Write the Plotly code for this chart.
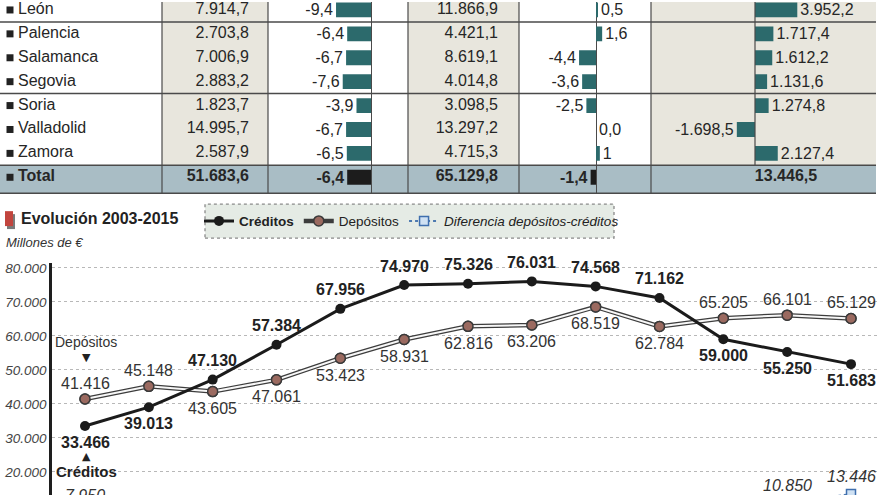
import plotly.graph_objects as go

W, H = 880, 495
FONT = "Liberation Sans"
TXT = "#262626"
TEAL = "#2c6a6c"
BEIGE = "#e8e6dd"
TOTAL_BG = "#a9bdc5"
LINEC = "#4a4a4a"

# ---------------- data: table ----------------
regions = ["León", "Palencia", "Salamanca", "Segovia", "Soria", "Valladolid", "Zamora", "Total"]
cred_values = [7914.7, 2703.8, 7006.9, 2883.2, 1823.7, 14995.7, 2587.9, 51683.6]
cred_change = [-9.4, -6.4, -6.7, -7.6, -3.9, -6.7, -6.5, -6.4]
dep_values = [11866.9, 4421.1, 8619.1, 4014.8, 3098.5, 13297.2, 4715.3, 65129.8]
dep_change = [0.5, 1.6, -4.4, -3.6, -2.5, 0.0, 1.0, -1.4]
dep_change_labels = ["0,5", "1,6", "-4,4", "-3,6", "-2,5", "0,0", "1", "-1,4"]
diff_values = [3952.2, 1717.4, 1612.2, 1131.6, 1274.8, -1698.5, 2127.4, 13446.5]

# ---------------- data: evolution ----------------
years = list(range(2003, 2016))
creditos = [33466, 39013, 47130, 57384, 67956, 74970, 75326, 76031, 74568, 71162, 59000, 55250, 51683]
depositos = [41416, 45148, 43605, 47061, 53423, 58931, 62816, 63206, 68519, 62784, 65205, 66101, 65129]
diferencia = [7950, 6135, -3525, -10323, -14533, -16039, -12510, -12825, -6049, -8378, 6204, 10850, 13446]
cred_pos = ["below", "below", "above", "above", "above", "above", "above", "above", "above", "above", "below", "below", "below"]
dep_pos = ["above", "above", "below", "below", "below", "below", "below", "below", "below", "below", "above", "above", "above"]
y_ticks = [20000, 30000, 40000, 50000, 60000, 70000, 80000]


def fmt(v, d=1):
    s = f"{v:,.{d}f}"
    return s.replace(",", "X").replace(".", ",").replace("X", ".")


def px(x):
    return x / W


def py(y):
    return 1 - y / H


fig = go.Figure()
is_total = [r == "Total" for r in regions]


def bold_if(s, b):
    return f"<b>{s}</b>" if b else s


# bullets
fig.add_trace(go.Scatter(
    x=[10] * len(regions), y=regions, mode="markers",
    marker=dict(symbol="square", size=7, color="#222"),
    xaxis="x", yaxis="y", hoverinfo="skip", showlegend=False, cliponaxis=False))
# names
fig.add_trace(go.Scatter(
    x=[18] * len(regions), y=regions, mode="text",
    text=[bold_if(r, t) for r, t in zip(regions, is_total)],
    textposition="middle right", textfont=dict(size=16, color=TXT, family=FONT),
    xaxis="x", yaxis="y", hoverinfo="skip", showlegend=False, cliponaxis=False))

# credit values
fig.add_trace(go.Scatter(
    x=[249] * len(regions), y=regions, mode="text",
    text=[bold_if(fmt(v), t) for v, t in zip(cred_values, is_total)],
    textposition="middle left", textfont=dict(size=16, color=TXT, family=FONT),
    xaxis="x", yaxis="y", hoverinfo="skip", showlegend=False, cliponaxis=False))

# deposit values
fig.add_trace(go.Scatter(
    x=[498] * len(regions), y=regions, mode="text",
    text=[bold_if(fmt(v), t) for v, t in zip(dep_values, is_total)],
    textposition="middle left", textfont=dict(size=16, color=TXT, family=FONT),
    xaxis="x", yaxis="y", hoverinfo="skip", showlegend=False, cliponaxis=False))

# total difference
fig.add_trace(go.Scatter(
    x=[786], y=regions[-1:], mode="text",
    text=[f"<b>{fmt(diff_values[-1])}</b>"],
    textposition="middle center", textfont=dict(size=16, color=TXT, family=FONT),
    xaxis="x", yaxis="y", hoverinfo="skip", showlegend=False, cliponaxis=False))

# credit change bars
fig.add_trace(go.Bar(
    y=regions, x=cred_change, orientation="h", width=0.62,
    marker=dict(color=[("#1c1c1c" if t else TEAL) for t in is_total], line=dict(width=0)),
    text=[bold_if(fmt(v), t) for v, t in zip(cred_change, is_total)],
    textposition="outside", constraintext="none", cliponaxis=False,
    textfont=dict(size=16, color=TXT, family=FONT),
    xaxis="x2", yaxis="y", hoverinfo="skip", showlegend=False))

# deposit change bars
fig.add_trace(go.Bar(
    y=regions, x=dep_change, orientation="h", width=0.62,
    marker=dict(color=[("#1c1c1c" if t else TEAL) for t in is_total], line=dict(width=0)),
    text=[bold_if(s, t) for s, t in zip(dep_change_labels, is_total)],
    textposition="outside", constraintext="none", cliponaxis=False,
    textfont=dict(size=16, color=TXT, family=FONT),
    xaxis="x3", yaxis="y", hoverinfo="skip", showlegend=False))

# difference bars (provinces only)
fig.add_trace(go.Bar(
    y=regions[:-1], x=diff_values[:-1], orientation="h", width=0.62,
    marker=dict(color=TEAL, line=dict(width=0)),
    text=[fmt(v) for v in diff_values[:-1]],
    textposition="outside", constraintext="none", cliponaxis=False,
    textfont=dict(size=16, color=TXT, family=FONT),
    xaxis="x4", yaxis="y", hoverinfo="skip", showlegend=False))

# ---------------- evolution chart ----------------
Y5_TOP_PX, Y5_RANGE = 262, [13171, 81465]
UNITS_PER_PX = (Y5_RANGE[1] - Y5_RANGE[0]) / (H - Y5_TOP_PX)

DEP_C = "#9b6a60"
fig.add_trace(go.Scatter(
    x=years, y=depositos, mode="lines+markers", name="Depósitos", legendrank=2,
    line=dict(color="#3d3d3d", width=4.5),
    marker=dict(size=10, color=DEP_C, line=dict(color="#3a3a3a", width=1.5)),
    xaxis="x5", yaxis="y5", hoverinfo="skip"))
fig.add_trace(go.Scatter(
    x=years, y=depositos, mode="lines+markers", showlegend=False,
    line=dict(color="#f7f7f7", width=2),
    marker=dict(size=10, color=DEP_C, line=dict(color="#3a3a3a", width=1.5)),
    xaxis="x5", yaxis="y5", hoverinfo="skip"))
fig.add_trace(go.Scatter(
    x=years, y=creditos, mode="lines+markers", name="<b>Créditos</b>", legendrank=1,
    line=dict(color="#1b1b1b", width=3),
    marker=dict(size=10, color="#1b1b1b"),
    xaxis="x5", yaxis="y5", hoverinfo="skip"))
fig.add_trace(go.Scatter(
    x=years, y=diferencia, mode="lines+markers", name="<i>Diferencia depósitos-créditos</i>",
    legendrank=3, cliponaxis=False,
    line=dict(color="#4d79b0", width=2, dash="dot"),
    marker=dict(symbol="square", size=9, color="#cfe1f3", line=dict(color="#3f6fae", width=1.5)),
    xaxis="x5", yaxis="y5", hoverinfo="skip"))

annotations = []
for yr, v, pos in zip(years, creditos, cred_pos):
    annotations.append(dict(x=yr, y=v, xref="x5", yref="y5", text=f"<b>{fmt(v, 0)}</b>",
                            showarrow=False, yshift=19 if pos == "above" else -16,
                            font=dict(size=16, color="#222", family=FONT)))
for yr, v, pos in zip(years, depositos, dep_pos):
    annotations.append(dict(x=yr, y=v, xref="x5", yref="y5", text=fmt(v, 0),
                            showarrow=False, yshift=16 if pos == "above" else -17,
                            font=dict(size=16, color="#333", family=FONT)))
# difference labels: text box top placed above each point (tail in data units)
for yr, v in zip(years, diferencia):
    annotations.append(dict(x=yr, y=v, xref="x5", yref="y5", axref="x5", ayref="y5",
                            ax=yr, ay=v + 28 * UNITS_PER_PX, yanchor="top", xanchor="center",
                            showarrow=True, arrowcolor="rgba(0,0,0,0)", arrowwidth=0.1,
                            text=fmt(v, 0),
                            font=dict(size=16, color="#333", family=FONT, style="italic")))

annotations += [
    dict(x=px(19), y=py(217), xref="paper", yref="paper", xanchor="left", yanchor="middle",
         text="<b>Evolución 2003-2015</b>", showarrow=False, font=dict(size=16, color="#222", family=FONT)),
    dict(x=px(4), y=py(241), xref="paper", yref="paper", xanchor="left", yanchor="middle",
         text="Millones de €", showarrow=False, font=dict(size=13, color="#333", family=FONT, style="italic")),
    dict(x=px(86), y=py(341), xref="paper", yref="paper", xanchor="center", yanchor="middle",
         text="Depósitos", showarrow=False, font=dict(size=14, color="#333", family=FONT)),
    dict(x=px(86), y=py(357), xref="paper", yref="paper", xanchor="center", yanchor="middle",
         text="▼", showarrow=False, font=dict(size=11, color="#222", family="DejaVu Sans")),
    dict(x=px(86), y=py(456), xref="paper", yref="paper", xanchor="center", yanchor="middle",
         text="▲", showarrow=False, font=dict(size=11, color="#222", family="DejaVu Sans")),
    dict(x=px(86), y=py(471), xref="paper", yref="paper", xanchor="center", yanchor="middle",
         text="<b>Créditos</b>", showarrow=False, font=dict(size=15, color="#222", family=FONT)),
]

# ---------------- shapes ----------------
TABLE_BOTTOM = 192
shapes = []
for x0, x1 in [(162, 268), (408, 519), (651, 876)]:
    shapes.append(dict(type="rect", xref="paper", yref="paper", x0=px(x0), x1=px(x1),
                       y0=py(TABLE_BOTTOM), y1=1, fillcolor=BEIGE, line=dict(width=0), layer="below"))
shapes.append(dict(type="rect", xref="paper", yref="y", x0=0, x1=px(876), y0=6.5, y1=7.667,
                   fillcolor=TOTAL_BG, line=dict(width=0), layer="below"))
for yb in [0.5, 3.5, 6.5]:
    shapes.append(dict(type="line", xref="paper", yref="y", x0=0, x1=px(876), y0=yb, y1=yb,
                       line=dict(color=LINEC, width=1.5)))
shapes.append(dict(type="line", xref="paper", yref="paper", x0=0, x1=px(876),
                   y0=py(TABLE_BOTTOM), y1=py(TABLE_BOTTOM), line=dict(color=LINEC, width=1.5)))
for xv in [162, 268, 408, 519, 651]:
    shapes.append(dict(type="line", xref="paper", yref="paper", x0=px(xv), x1=px(xv),
                       y0=py(TABLE_BOTTOM), y1=1, line=dict(color=LINEC, width=1.2)))
shapes.append(dict(type="line", xref="x4", yref="y", x0=0, x1=0, y0=-0.333, y1=6.5,
                   line=dict(color=LINEC, width=1.2)))
# legend box
shapes.append(dict(type="rect", xref="paper", yref="paper", x0=px(205), x1=px(614),
                   y0=py(237), y1=py(203), fillcolor="#e5ebe5",
                   line=dict(color="#8a8a8a", width=1.3, dash="dot"), layer="below"))
# title icon
shapes.append(dict(type="rect", xref="paper", yref="paper", x0=px(7), x1=px(15),
                   y0=py(228), y1=py(213), fillcolor="#7a7a7a", line=dict(width=0)))
shapes.append(dict(type="rect", xref="paper", yref="paper", x0=px(5), x1=px(13),
                   y0=py(225), y1=py(210), fillcolor="#c2453e", line=dict(width=0)))

hidden = dict(showticklabels=False, showgrid=False, ticks="", showline=False, fixedrange=True)
TABLE_DOM = [py(TABLE_BOTTOM), 1]

fig.update_layout(
    width=W, height=H, autosize=False,
    margin=dict(l=0, r=0, t=0, b=0, pad=0),
    paper_bgcolor="white", plot_bgcolor="rgba(0,0,0,0)",
    separators=",.",
    font=dict(family=FONT, color=TXT),
    barmode="overlay",
    showlegend=True,
    legend=dict(orientation="h", x=px(199), y=py(220), xanchor="left", yanchor="middle",
                bgcolor="rgba(0,0,0,0)", font=dict(size=13.5, color="#222", family=FONT),
                itemwidth=30, tracegroupgap=0, itemclick=False, itemdoubleclick=False),
    xaxis=dict(domain=[0, 1], range=[0, W], zeroline=False, **hidden),
    yaxis=dict(domain=TABLE_DOM, type="category", categoryorder="array", categoryarray=regions,
               range=[7.667, -0.333], zeroline=False, **hidden),
    xaxis2=dict(domain=[px(268), px(408)], range=[-(371 - 268) / 3.72, (408 - 371) / 3.72],
                anchor="y", zeroline=True, zerolinecolor=LINEC, zerolinewidth=1.2, **hidden),
    xaxis3=dict(domain=[px(519), px(651)], range=[-(596 - 519) / 3.85, (651 - 596) / 3.85],
                anchor="y", zeroline=True, zerolinecolor=LINEC, zerolinewidth=1.2, **hidden),
    xaxis4=dict(domain=[px(651), px(876)], range=[-(755 - 651) / 0.0107, (876 - 755) / 0.0107],
                anchor="y", zeroline=False, **hidden),
    xaxis5=dict(domain=[px(52), 1], range=[2003 - 33 / 63.83, 2015 + 29 / 63.83],
                anchor="y5", zeroline=False, **hidden),
    yaxis5=dict(domain=[0, py(Y5_TOP_PX)], range=Y5_RANGE, anchor="x5",
                tickvals=y_ticks, tickformat=",.0f", ticks="",
                tickfont=dict(size=13.5, color="#444", family=FONT, style="italic"),
                showgrid=True, gridcolor="#b8b8b8", gridwidth=1, griddash="dot",
                showline=True, linecolor="#1e1e1e", linewidth=2.5, zeroline=False,
                fixedrange=True),
    annotations=annotations,
    shapes=shapes,
)

fig.write_html("out.html", config={"displayModeBar": False},
               post_script="document.body.style.margin='0';document.body.style.overflow='hidden';")
